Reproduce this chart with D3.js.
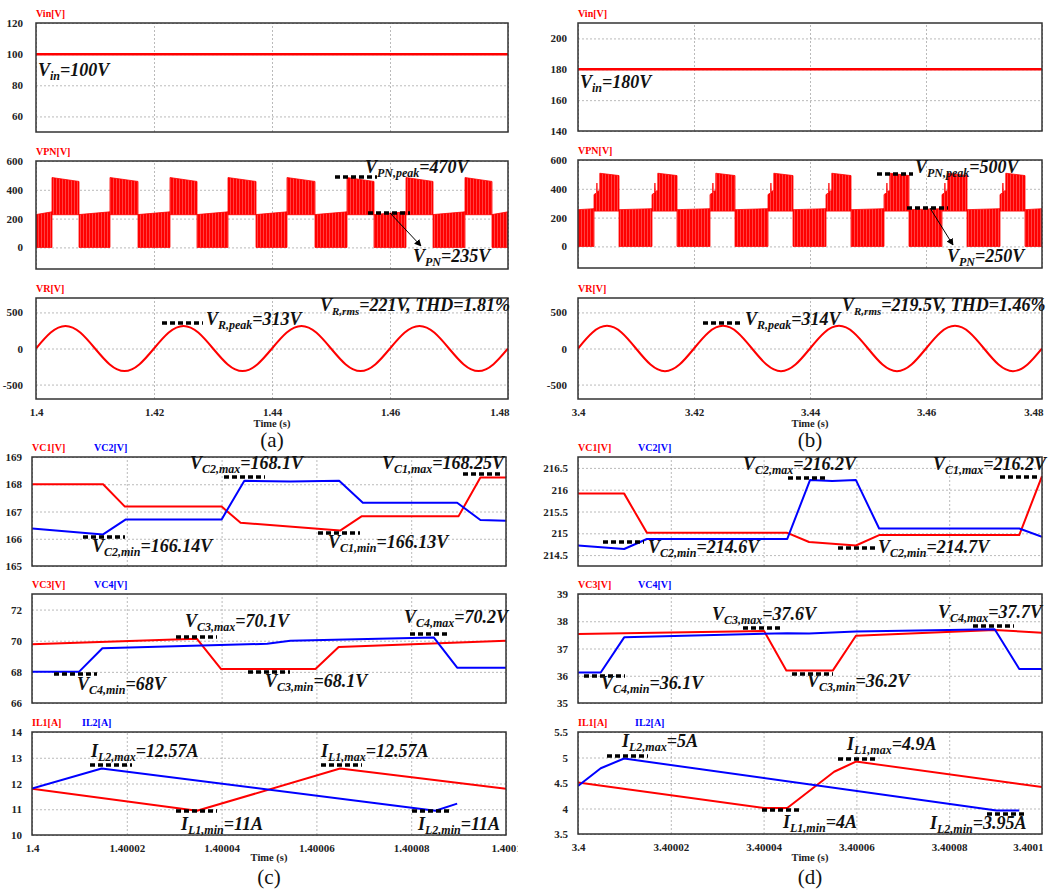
<!DOCTYPE html>
<html>
<head>
<meta charset="utf-8">
<script src="https://cdn.jsdelivr.net/npm/d3@7"></script>
<style>
  body { margin: 0; background: #fff; }
  text { font-family: "Liberation Serif", "Times New Roman", serif; }
  .tick text { font-weight: bold; font-size: 11px; fill: #222; }
  .grid line { stroke: #a8a8a8; stroke-width: 0.8; stroke-dasharray: 2,2; }
  .grid path { display: none; }
  .lab path { display: none; }
  .note { font-weight: bold; font-style: italic; font-size: 18px; fill: #111; }
</style>
</head>
<body>
<svg id="chart" width="1053" height="890"></svg>
<script>
// ---- data ----
// (a)/(b) upper plots: time is ms after 1.4 s / 3.4 s
var vin_t = [0, 80];
var vinA_v = [100, 100];
var vinB_v = [180, 180];

// VPN: block edges (ms), blocks alternate low / high, starting with a low block
var vpnA_edges = [0, 2.71, 7.29, 12.54, 17.29, 22.71, 27.29, 32.54, 37.29, 42.54, 47.29, 52.71, 57.29, 62.71, 67.29, 72.71, 77.29, 80];
var vpnA_lowTop = [228, 247];
var vpnA_highBot = 227;
var vpnA_highTop = [485, 458];

var vpnB_edges = [0, 2.76, 7.07, 12.76, 17.07, 22.76, 27.07, 32.76, 37.07, 42.76, 47.07, 52.76, 57.07, 62.76, 67.07, 72.76, 77.07, 80];
var vpnB_lowTop = [255, 262];
var vpnB_highBot = 245;
var vpnB_stepT = [0, 0.45, 0.5, 0.55, 1.0];
var vpnB_stepV = [360, 372, 440, 380, 390];
var vpnB_highTop = [508, 492];

// VR sampled every 2.5 ms
var vr_t = [0, 2.5, 5, 7.5, 10, 12.5, 15, 17.5, 20, 22.5, 25, 27.5, 30, 32.5, 35, 37.5, 40,
            42.5, 45, 47.5, 50, 52.5, 55, 57.5, 60, 62.5, 65, 67.5, 70, 72.5, 75, 77.5, 80];
var vrA_v = [0, 221, 313, 221, 0, -221, -313, -221, 0, 221, 313, 221, 0, -221, -313, -221, 0,
             221, 313, 221, 0, -221, -313, -221, 0, 221, 313, 221, 0, -221, -313, -221, 0];
var vrB_v = [0, 222, 314, 222, 0, -222, -314, -222, 0, 222, 314, 222, 0, -222, -314, -222, 0,
             222, 314, 222, 0, -222, -314, -222, 0, 222, 314, 222, 0, -222, -314, -222, 0];

var xTicksTop = [0, 20, 40, 60, 80];
var xLabelsA = ["1.4", "1.42", "1.44", "1.46", "1.48"];
var xLabelsB = ["3.4", "3.42", "3.44", "3.46", "3.48"];

// (c)/(d) lower plots: time is us after 1.4 s / 3.4 s
var vc1C_t = [0, 15, 19.6, 40, 44, 65, 69.6, 90, 94.6, 100];
var vc1C_v = [168, 168, 167.18, 167.18, 166.59, 166.30, 166.83, 166.83, 168.25, 168.25];
var vc2C_t = [0, 15, 19.8, 40, 44.8, 54.5, 64.8, 69.8, 89.7, 94.6, 100];
var vc2C_v = [166.38, 166.16, 166.71, 166.71, 168.13, 168.1, 168.13, 167.32, 167.32, 166.69, 166.66];
var vc3C_t = [0, 34.8, 39.9, 59.8, 64.7, 100];
var vc3C_v = [69.78, 70.12, 68.18, 68.18, 69.59, 69.99];
var vc4C_t = [0, 9.9, 14.85, 49.6, 54.5, 84.75, 89.7, 100];
var vc4C_v = [68.0, 68.0, 69.52, 69.8, 70.0, 70.21, 68.27, 68.27];
var il1C_t = [0, 34.8, 65, 100];
var il1C_v = [11.8, 10.94, 12.58, 11.8];
var il2C_t = [0, 14.7, 85.1, 89.7];
var il2C_v = [11.8, 12.58, 10.94, 11.22];

var vc1D_t = [0, 9.95, 14.85, 45.1, 49.8, 59.9, 64.9, 95.1, 100];
var vc1D_v = [215.91, 215.91, 215.01, 215.01, 214.80, 214.72, 214.96, 214.96, 216.31];
var vc2D_t = [0, 9.95, 14.85, 45.1, 50, 54.8, 59.9, 64.9, 95.1, 100];
var vc2D_v = [214.72, 214.64, 214.87, 214.87, 216.22, 216.2, 216.22, 215.11, 215.11, 214.92];
var vc3D_t = [0, 40.1, 44.9, 54.9, 59.9, 89.8, 100];
var vc3D_v = [37.53, 37.64, 36.19, 36.19, 37.47, 37.68, 37.58];
var vc4D_t = [0, 4.9, 9.95, 45.1, 49.8, 59.9, 89.8, 95.1, 100];
var vc4D_v = [36.12, 36.12, 37.41, 37.56, 37.55, 37.62, 37.71, 36.25, 36.25];
var il1D_t = [0, 40.1, 45.1, 55.2, 59.9, 100];
var il1D_v = [4.51, 4.01, 4.01, 4.72, 4.92, 4.42];
var il2D_t = [0, 4.9, 9.95, 90.2, 95.1];
var il2D_v = [4.44, 4.79, 4.98, 3.96, 3.96];

var xTicksLow = [0, 20, 40, 60, 80, 100];
var xLabelsC = ["1.4", "1.40002", "1.40004", "1.40006", "1.40008", "1.4001"];
var xLabelsD = ["3.4", "3.40002", "3.40004", "3.40006", "3.40008", "3.4001"];

var RED = "#ff0000", BLUE = "#0000ff";

// ---- drawing ----
var svg = d3.select("#chart");
var defs = svg.append("defs");
defs.append("marker").attr("id", "arrow").attr("viewBox", "0 0 10 10")
  .attr("refX", 9).attr("refY", 5).attr("markerWidth", 7).attr("markerHeight", 7)
  .attr("orient", "auto")
  .append("path").attr("d", "M0,0 L10,5 L0,10 z").attr("fill", "#000");

// faint vertical striping for the switching waveform
var pat = defs.append("pattern").attr("id", "pwm").attr("patternUnits", "userSpaceOnUse")
  .attr("width", 3).attr("height", 10);
pat.append("rect").attr("width", 3).attr("height", 10).attr("fill", RED);
pat.append("rect").attr("x", 2).attr("width", 0.6).attr("height", 10).attr("fill", "#ff6a6a");

var leftClip = defs.append("clipPath").attr("id", "leftcol");
leftClip.append("rect").attr("x", 0).attr("y", 0).attr("width", 518).attr("height", 890);

var clipN = 0;
function panel(o) {
  var g = svg.append("g");
  if (o.clipLeft) g.attr("clip-path", "url(#leftcol)");
  var x = d3.scaleLinear().domain(o.xd).range([o.l, o.r]);
  var y = d3.scaleLinear().domain(o.yd).range([o.b, o.t]);

  g.append("g").attr("class", "grid").attr("transform", "translate(" + o.l + ",0)")
    .call(d3.axisLeft(y).tickValues(o.yt).tickSize(-(o.r - o.l)).tickFormat(""));
  g.append("g").attr("class", "grid").attr("transform", "translate(0," + o.b + ")")
    .call(d3.axisBottom(x).tickValues(o.xt).tickSize(-(o.b - o.t)).tickFormat(""));

  g.append("g").attr("class", "lab").attr("transform", "translate(" + o.l + ",0)")
    .call(d3.axisLeft(y).tickValues(o.yt).tickSize(0).tickPadding(o.pad || 11)
      .tickFormat(function (d) { return d; }));

  if (o.xl) {
    var ax = g.append("g").attr("class", "lab").attr("transform", "translate(0," + o.b + ")")
      .call(d3.axisBottom(x).tickValues(o.xt).tickSize(0).tickPadding(9)
        .tickFormat(function (d, i) { return o.xl[i]; }));
    if (o.endLast) {
      ax.selectAll(".tick").filter(function (d, i) { return i === o.xt.length - 1; })
        .select("text").attr("text-anchor", "end").attr("dx", 1);
    }
  }

  clipN++;
  defs.append("clipPath").attr("id", "pc" + clipN).append("rect")
    .attr("x", o.l).attr("y", o.t).attr("width", o.r - o.l).attr("height", o.b - o.t);
  var body = g.append("g").attr("clip-path", "url(#pc" + clipN + ")");

  // series titles above the frame
  o.titles.forEach(function (s) {
    g.append("text").attr("x", s.x).attr("y", o.t - 6).attr("fill", s.c)
      .attr("font-size", 10).attr("font-weight", "bold").text(s.s);
  });

  return { g: g, body: body, x: x, y: y, o: o };
}

function frame(P) {
  var o = P.o;
  P.g.append("rect").attr("x", o.l).attr("y", o.t).attr("width", o.r - o.l).attr("height", o.b - o.t)
    .attr("fill", "none").attr("stroke", "#333").attr("stroke-width", 1.5);
}

function series(P, ts, vs, color, w, curve) {
  var line = d3.line().x(function (d) { return P.x(d[0]); }).y(function (d) { return P.y(d[1]); });
  if (curve) line.curve(curve);
  P.body.append("path").datum(d3.zip(ts, vs)).attr("d", line)
    .attr("fill", "none").attr("stroke", color).attr("stroke-width", w || 2)
    .attr("stroke-linejoin", "round");
}

function vpnBlocks(P, edges, lowTop, highBot, highTop, stepT, stepV) {
  var polys = [];
  for (var i = 0; i < edges.length - 1; i++) {
    var t0 = edges[i], t1 = edges[i + 1];
    if (i % 2 === 0) {
      polys.push([[t0, 0], [t0, lowTop[0]], [t1, lowTop[1]], [t1, 0]]);
    } else {
      var p = [[t0, highBot]];
      if (stepT) {
        stepT.forEach(function (d, k) { p.push([t0 + d, stepV[k]]); });
        p.push([t0 + stepT[stepT.length - 1], highTop[0]]);
      } else {
        p.push([t0, highTop[0]]);
      }
      p.push([t1, highTop[1]], [t1, highBot]);
      polys.push(p);
    }
  }
  var line = d3.line().x(function (d) { return P.x(d[0]); }).y(function (d) { return P.y(d[1]); });
  P.body.selectAll("path.vpn").data(polys).enter().append("path").attr("class", "vpn")
    .attr("d", function (d) { return line(d) + "Z"; })
    .attr("fill", "url(#pwm)").attr("stroke", RED).attr("stroke-width", 0.8);
}

function note(x, y, main, sub, rest, size) {
  var fs = size || 18;
  var t = svg.append("text").attr("class", "note").attr("x", x).attr("y", y).attr("font-size", fs);
  t.append("tspan").text(main);
  t.append("tspan").attr("font-size", Math.round(fs * 0.66)).attr("dy", fs * 0.24).text(sub);
  t.append("tspan").attr("dy", -fs * 0.24).text(rest);
}

function dash(x1, x2, y) {
  svg.append("line").attr("x1", x1).attr("x2", x2).attr("y1", y).attr("y2", y)
    .attr("stroke", "#000").attr("stroke-width", 3.5).attr("stroke-dasharray", "5,3");
}

function arrow(x1, y1, x2, y2) {
  svg.append("line").attr("x1", x1).attr("y1", y1).attr("x2", x2).attr("y2", y2)
    .attr("stroke", "#000").attr("stroke-width", 1).attr("marker-end", "url(#arrow)");
}

function caption(x, yTime, yCap, label) {
  svg.append("text").attr("x", x).attr("y", yTime).attr("text-anchor", "middle")
    .attr("font-size", 10.5).attr("font-weight", "bold").attr("fill", "#222").text("Time (s)");
  svg.append("text").attr("x", x).attr("y", yCap).attr("text-anchor", "middle")
    .attr("font-size", 21).attr("fill", "#111").text(label);
}

// ===== (a) =====
var aVin = panel({ l: 36, r: 508, t: 23, b: 132, xd: [0, 80], yd: [50, 120], xt: xTicksTop, yt: [60, 80, 100, 120], pad: 13,
  titles: [{ s: "Vin[V]", c: RED, x: 36 }] });
series(aVin, vin_t, vinA_v, RED, 2.5);
frame(aVin);

var aVpn = panel({ l: 36, r: 508, t: 161, b: 269, xd: [0, 80], yd: [-150, 600], xt: xTicksTop, yt: [0, 200, 400, 600], pad: 13,
  titles: [{ s: "VPN[V]", c: RED, x: 36 }] });
vpnBlocks(aVpn, vpnA_edges, vpnA_lowTop, vpnA_highBot, vpnA_highTop);
frame(aVpn);

var aVr = panel({ l: 36, r: 508, t: 298, b: 399, xd: [0, 80], yd: [-700, 700], xt: xTicksTop, yt: [-500, 0, 500], pad: 13,
  xl: xLabelsA, endLast: true, titles: [{ s: "VR[V]", c: RED, x: 36 }] });
series(aVr, vr_t, vrA_v, RED, 2, d3.curveNatural);
frame(aVr);
caption(272, 427, 447, "(a)");

// ===== (b) =====
var bVin = panel({ l: 578, r: 1042, t: 23, b: 131, xd: [0, 80], yd: [140, 210], xt: xTicksTop, yt: [140, 160, 180, 200],
  titles: [{ s: "Vin[V]", c: RED, x: 578 }] });
series(bVin, vin_t, vinB_v, RED, 2.5);
frame(bVin);

var bVpn = panel({ l: 578, r: 1042, t: 160, b: 268, xd: [0, 80], yd: [-150, 600], xt: xTicksTop, yt: [0, 200, 400, 600],
  titles: [{ s: "VPN[V]", c: RED, x: 578 }] });
vpnBlocks(bVpn, vpnB_edges, vpnB_lowTop, vpnB_highBot, vpnB_highTop, vpnB_stepT, vpnB_stepV);
frame(bVpn);

var bVr = panel({ l: 578, r: 1042, t: 298, b: 399, xd: [0, 80], yd: [-700, 700], xt: xTicksTop, yt: [-500, 0, 500],
  xl: xLabelsB, endLast: true, titles: [{ s: "VR[V]", c: RED, x: 578 }] });
series(bVr, vr_t, vrB_v, RED, 2, d3.curveNatural);
frame(bVr);
caption(810, 427, 447, "(b)");

// ===== (c) =====
var cV12 = panel({ l: 32, r: 506, t: 457, b: 566, xd: [0, 100], yd: [165, 169], xt: xTicksLow, yt: [165, 166, 167, 168, 169], pad: 10,
  titles: [{ s: "VC1[V]", c: RED, x: 32 }, { s: "VC2[V]", c: BLUE, x: 94 }] });
series(cV12, vc1C_t, vc1C_v, RED);
series(cV12, vc2C_t, vc2C_v, BLUE);
frame(cV12);

var cV34 = panel({ l: 32, r: 506, t: 594, b: 703, xd: [0, 100], yd: [66, 73], xt: xTicksLow, yt: [66, 68, 70, 72], pad: 10,
  titles: [{ s: "VC3[V]", c: RED, x: 32 }, { s: "VC4[V]", c: BLUE, x: 94 }] });
series(cV34, vc3C_t, vc3C_v, RED);
series(cV34, vc4C_t, vc4C_v, BLUE);
frame(cV34);

var cIl = panel({ l: 32, r: 506, t: 732, b: 835, xd: [0, 100], yd: [10, 14], xt: xTicksLow, yt: [10, 11, 12, 13, 14], pad: 10,
  xl: xLabelsC, clipLeft: true,
  titles: [{ s: "IL1[A]", c: RED, x: 32 }, { s: "IL2[A]", c: BLUE, x: 82 }] });
series(cIl, il1C_t, il1C_v, RED);
series(cIl, il2C_t, il2C_v, BLUE);
frame(cIl);
caption(269, 861, 884, "(c)");

// ===== (d) =====
var dV12 = panel({ l: 578, r: 1042, t: 457, b: 566, xd: [0, 100], yd: [214.25, 216.75], xt: xTicksLow, yt: [214.5, 215, 215.5, 216, 216.5], pad: 10,
  titles: [{ s: "VC1[V]", c: RED, x: 578 }, { s: "VC2[V]", c: BLUE, x: 638 }] });
series(dV12, vc1D_t, vc1D_v, RED);
series(dV12, vc2D_t, vc2D_v, BLUE);
frame(dV12);

var dV34 = panel({ l: 578, r: 1042, t: 594, b: 703, xd: [0, 100], yd: [35, 39], xt: xTicksLow, yt: [35, 36, 37, 38, 39], pad: 10,
  titles: [{ s: "VC3[V]", c: RED, x: 578 }, { s: "VC4[V]", c: BLUE, x: 638 }] });
series(dV34, vc3D_t, vc3D_v, RED);
series(dV34, vc4D_t, vc4D_v, BLUE);
frame(dV34);

var dIl = panel({ l: 578, r: 1042, t: 732, b: 834, xd: [0, 100], yd: [3.5, 5.5], xt: xTicksLow, yt: [3.5, 4, 4.5, 5, 5.5], pad: 10,
  xl: xLabelsD, endLast: true,
  titles: [{ s: "IL1[A]", c: RED, x: 578 }, { s: "IL2[A]", c: BLUE, x: 635 }] });
series(dIl, il1D_t, il1D_v, RED);
series(dIl, il2D_t, il2D_v, BLUE);
frame(dIl);
caption(810, 861, 884, "(d)");

// ===== annotations =====
note(38, 76, "V", "in", "=100V");
note(580, 88, "V", "in", "=180V");

dash(335, 377, 177);
note(365, 173, "V", "PN,peak", "=470V");
dash(368, 410, 213);
arrow(390, 213, 421, 246);
note(413, 262, "V", "PN", "=235V");

dash(877, 913, 174);
note(915, 173, "V", "PN,peak", "=500V");
dash(907, 948, 208);
arrow(930, 208, 953, 245);
note(947, 262, "V", "PN", "=250V");

dash(162, 203, 323);
note(206, 325, "V", "R,peak", "=313V");
note(320, 311, "V", "R,rms", "=221V, THD=1.81%", 17);
dash(703, 743, 323);
note(745, 325, "V", "R,peak", "=314V");
note(842, 311, "V", "R,rms", "=219.5V, THD=1.46%", 17);

// (c)
dash(224, 265, 477); note(190, 469, "V", "C2,max", "=168.1V");
dash(463, 503, 474); note(382, 469, "V", "C1,max", "=168.25V");
dash(83, 125, 537);  note(92, 552, "V", "C2,min", "=166.14V");
dash(318, 360, 533); note(328, 548, "V", "C1,min", "=166.13V");

dash(176, 217, 637); note(185, 627, "V", "C3,max", "=70.1V");
dash(410, 447, 634); note(404, 623, "V", "C4,max", "=70.2V");
dash(54, 97, 674);   note(77, 690, "V", "C4,min", "=68V");
dash(248, 290, 672); note(265, 687, "V", "C3,min", "=68.1V");

dash(90, 132, 765);  note(91, 757, "I", "L2,max", "=12.57A");
dash(321, 362, 765); note(321, 757, "I", "L1,max", "=12.57A");
dash(176, 217, 811); note(181, 830, "I", "L1,min", "=11A");
dash(412, 452, 811); note(418, 830, "I", "L2,min", "=11A");

// (d)
dash(788, 828, 478);  note(743, 470, "V", "C2,max", "=216.2V");
dash(1000, 1040, 477); note(933, 470, "V", "C1,max", "=216.2V");
dash(603, 644, 542);  note(648, 553, "V", "C2,min", "=214.6V");
dash(838, 878, 548);  note(878, 553, "V", "C2,min", "=214.7V");

dash(743, 783, 628);  note(712, 620, "V", "C3,max", "=37.6V");
dash(973, 1014, 626); note(938, 618, "V", "C4,max", "=37.7V");
dash(584, 625, 676);  note(601, 689, "V", "C4,min", "=36.1V");
dash(792, 833, 674);  note(807, 687, "V", "C3,min", "=36.2V");

dash(607, 648, 756);  note(622, 747, "I", "L2,max", "=5A");
dash(838, 878, 759);  note(847, 750, "I", "L1,max", "=4.9A");
dash(762, 802, 810);  note(783, 828, "I", "L1,min", "=4A");
dash(987, 1027, 814); note(930, 829, "I", "L2,min", "=3.95A");
</script>
</body>
</html>
